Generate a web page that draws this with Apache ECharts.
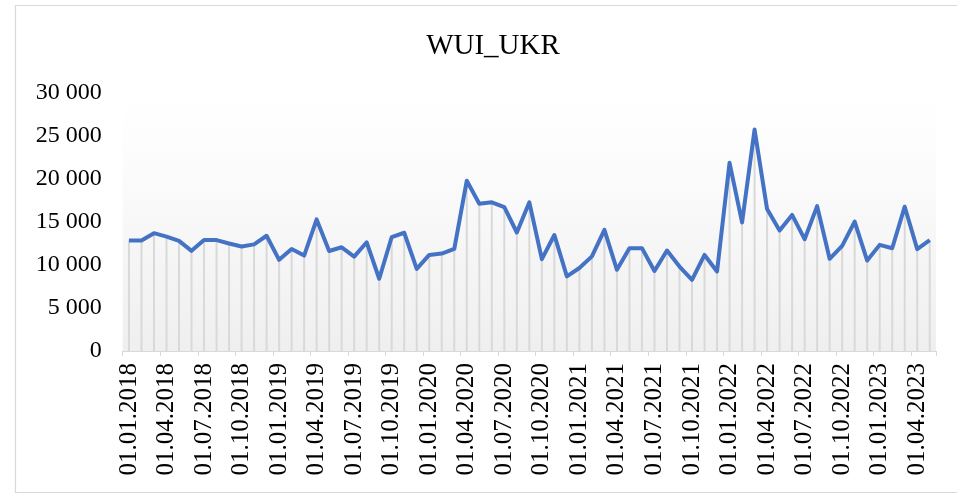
<!DOCTYPE html>
<html>
<head>
<meta charset="utf-8">
<script src="https://cdn.jsdelivr.net/npm/echarts@6/dist/echarts.min.js"></script>
<style>html,body{margin:0;padding:0;background:#fff;}#c{width:957px;height:496px;}</style>
</head>
<body>
<div id="c"></div>
<script>
const titleText = 'WUI_UKR';
const categories = [
'01.01.2018','01.02.2018','01.03.2018','01.04.2018','01.05.2018','01.06.2018','01.07.2018','01.08.2018','01.09.2018','01.10.2018','01.11.2018','01.12.2018',
'01.01.2019','01.02.2019','01.03.2019','01.04.2019','01.05.2019','01.06.2019','01.07.2019','01.08.2019','01.09.2019','01.10.2019','01.11.2019','01.12.2019',
'01.01.2020','01.02.2020','01.03.2020','01.04.2020','01.05.2020','01.06.2020','01.07.2020','01.08.2020','01.09.2020','01.10.2020','01.11.2020','01.12.2020',
'01.01.2021','01.02.2021','01.03.2021','01.04.2021','01.05.2021','01.06.2021','01.07.2021','01.08.2021','01.09.2021','01.10.2021','01.11.2021','01.12.2021',
'01.01.2022','01.02.2022','01.03.2022','01.04.2022','01.05.2022','01.06.2022','01.07.2022','01.08.2022','01.09.2022','01.10.2022','01.11.2022','01.12.2022',
'01.01.2023','01.02.2023','01.03.2023','01.04.2023','01.05.2023'
];
const wuiValues = [
12850,12850,13700,13300,12800,11650,12900,12900,12500,12150,12400,13400,
10600,11870,11100,15300,11630,12060,10980,12640,8400,13250,13750,9550,
11170,11330,11870,19800,17120,17290,16720,13780,17290,10680,13490,8680,
9650,11000,14080,9440,11960,11960,9300,11680,9820,8280,11170,9250,
21880,14950,25750,16500,14000,15820,13000,16850,10720,12220,15050,10520,
12340,11950,16780,11850,12900
];
const yTicks = {min: 0, max: 30000, interval: 5000};

const fmt = v => String(v).replace(/\B(?=(\d{3})+(?!\d))/g, ' ');
const font = '"Liberation Serif", "Times New Roman", serif';

const chart = echarts.init(document.getElementById('c'), null, {renderer: 'canvas'});
chart.setOption({
  animation: false,
  backgroundColor: '#ffffff',
  title: {
    text: titleText, left: 488, textAlign: 'center', top: 27,
    textStyle: {fontFamily: font, fontSize: 29, fontWeight: 'normal', color: '#000'}
  },
  graphic: [{
    type: 'rect', silent: true, z: -10,
    shape: {x: 15.5, y: 5.5, width: 950, height: 487},
    style: {fill: 'none', stroke: '#d9d9d9', lineWidth: 1.2}
  }],
  grid: {
    left: 122.7, right: 21, top: 93, bottom: 145,
    show: true, borderWidth: 0,
    backgroundColor: new echarts.graphic.LinearGradient(0, 0, 0, 1, [
      {offset: 0, color: '#ffffff'}, {offset: 0.2, color: '#fdfdfd'}, {offset: 1, color: '#efefef'}
    ])
  },
  xAxis: {
    type: 'category', data: categories, boundaryGap: true,
    axisLine: {show: true, lineStyle: {color: '#d9d9d9', width: 1}},
    axisTick: {show: true, interval: 2, length: 5, lineStyle: {color: '#d9d9d9'}},
    axisLabel: {interval: 2, rotate: 90, margin: 12, color: '#000', fontFamily: font, fontSize: 25},
    splitLine: {show: false}
  },
  yAxis: {
    type: 'value', min: yTicks.min, max: yTicks.max, interval: yTicks.interval,
    axisLine: {show: false}, axisTick: {show: false}, splitLine: {show: false},
    axisLabel: {margin: 21, color: '#000', fontFamily: font, fontSize: 24, formatter: fmt}
  },
  series: [
    {
      type: 'bar', data: wuiValues, barWidth: 2, silent: true, z: 1,
      itemStyle: {color: '#d9d9d9'}
    },
    {
      type: 'line', data: wuiValues, showSymbol: false, symbol: 'none', z: 3,
      lineStyle: {color: '#4472C4', width: 4, join: 'round'}
    }
  ]
});
</script>
</body>
</html>
